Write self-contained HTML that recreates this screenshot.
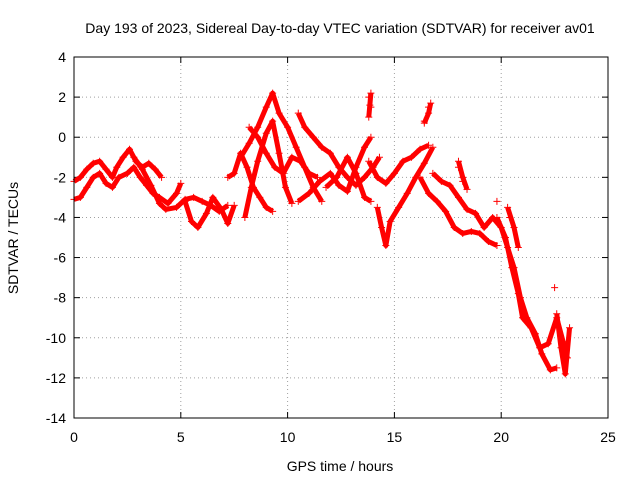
<!DOCTYPE html>
<html><head><meta charset="utf-8"><style>
body{margin:0;background:#fff;font-family:"Liberation Sans",sans-serif}
svg text{font-family:"Liberation Sans",sans-serif;font-size:14px;fill:#000}
</style></head><body>
<svg id="chart" width="640" height="480">
<text x="340" y="33" text-anchor="middle">Day 193 of 2023, Sidereal Day-to-day VTEC variation (SDTVAR) for receiver av01</text>
<text x="340" y="471" text-anchor="middle">GPS time / hours</text>
<text x="18" y="238" text-anchor="middle" transform="rotate(-90 18 238)">SDTVAR / TECUs</text>
<g id="grid"></g><g id="series"></g>
<rect x="74" y="57" width="534" height="361" fill="none" stroke="#000"/>
</svg>
<script>
const xTicks=[0,5,10,15,20,25];
const yTicks=[4,2,0,-2,-4,-6,-8,-10,-12,-14];
const tracks=[
[[0,-2.2],[0.3,-2.0],[0.6,-1.6],[0.9,-1.3],[1.2,-1.2],[1.5,-1.6],[1.8,-2.0],[2.0,-1.5],[2.3,-1.0],[2.6,-0.6],[2.9,-1.2],[3.2,-1.5],[3.5,-1.3],[3.8,-1.6],[4.1,-2.0]],
[[0,-3.1],[0.3,-3.0],[0.6,-2.5],[0.9,-2.0],[1.2,-1.8],[1.5,-2.3],[1.8,-2.5],[2.1,-2.0],[2.5,-1.8],[2.8,-1.5],[3.1,-2.0],[3.4,-2.4],[3.7,-2.8],[4.0,-3.0],[4.4,-3.3],[4.8,-2.8],[5.0,-2.3]],
[[2.8,-1.0],[3.2,-1.6],[3.6,-2.4],[4.0,-3.3],[4.3,-3.6],[4.8,-3.5],[5.2,-3.1],[5.6,-3.0],[6.0,-3.2],[6.4,-3.4],[6.8,-3.7],[7.2,-3.4]],
[[5.2,-3.2],[5.5,-4.2],[5.8,-4.5],[6.2,-3.8],[6.5,-3.0],[6.9,-3.6],[7.2,-4.3],[7.5,-3.4]],
[[7.2,-2.0],[7.5,-1.8],[7.8,-0.8],[8.1,-1.5],[8.4,-2.5],[8.7,-3.0],[9.0,-3.5],[9.3,-3.7]],
[[7.8,-1.0],[8.2,-0.3],[8.6,0.5],[9.0,1.5],[9.3,2.2],[9.6,1.2],[10.0,0.5],[10.4,-0.5],[10.8,-1.5],[11.2,-2.5],[11.6,-3.2]],
[[8.0,-4.0],[8.3,-2.5],[8.6,-1.2],[9.0,0.2],[9.3,0.8],[9.6,-0.8],[9.9,-2.5],[10.2,-3.3]],
[[8.2,0.5],[8.6,0.0],[9.0,-0.8],[9.4,-1.5],[9.8,-1.8],[10.2,-1.0],[10.6,-1.2],[11.0,-1.8],[11.4,-2.0]],
[[10.5,1.2],[10.8,0.5],[11.2,0.0],[11.6,-0.5],[12.0,-0.8],[12.4,-1.5],[12.8,-2.0],[13.2,-2.4],[13.6,-2.0],[14.0,-1.5],[14.3,-1.0]],
[[10.5,-3.2],[11.0,-2.8],[11.5,-2.2],[12.0,-1.8],[12.4,-2.4],[12.8,-2.7],[13.2,-1.5],[13.6,-0.5],[13.9,0.0]],
[[11.8,-2.5],[12.3,-2.0],[12.8,-1.0],[13.2,-1.8],[13.6,-3.0],[13.9,-3.2]],
[[14.2,-3.5],[14.4,-4.5],[14.6,-5.4],[14.8,-4.2],[15.2,-3.5],[15.6,-2.8],[16.0,-2.0],[16.4,-1.3],[16.8,-0.5]],
[[13.8,-1.2],[14.2,-2.0],[14.6,-2.3],[15.0,-1.8],[15.4,-1.2],[15.8,-1.0],[16.2,-0.6],[16.6,-0.4]],
[[16.2,-2.0],[16.6,-2.8],[17.0,-3.2],[17.4,-3.7],[17.8,-4.5],[18.2,-4.8],[18.6,-4.7],[19.0,-4.8],[19.4,-5.2],[19.8,-5.4]],
[[16.8,-1.8],[17.2,-2.2],[17.6,-2.4],[18.0,-3.0],[18.4,-3.6],[18.8,-3.8],[19.2,-4.5],[19.6,-4.0],[20.0,-4.5],[20.3,-5.5],[20.6,-6.5],[20.9,-8.0],[21.2,-9.0],[21.6,-9.8],[21.9,-10.8],[22.3,-11.6],[22.6,-11.5]],
[[19.8,-4.0],[20.2,-5.0],[20.5,-6.5],[20.8,-7.8],[21.0,-9.0],[21.4,-9.5],[21.8,-10.5],[22.2,-10.3],[22.6,-9.0],[22.9,-10.2],[23.1,-11.0]],
[[22.6,-8.8],[22.8,-10.5],[23.0,-11.8],[23.2,-9.5]],
[[13.8,1.0],[13.85,1.6],[13.9,2.2]],
[[16.4,0.7],[16.6,1.2],[16.7,1.7]],
[[18.0,-1.2],[18.2,-2.0],[18.4,-2.6]],
[[20.3,-3.5],[20.6,-4.5],[20.8,-5.5]]
];
const isolated=[[13.8,2.0],[13.9,1.5],[16.6,1.5],[16.4,0.8],[18.0,-1.5],[18.2,-2.2],[19.8,-3.2],[20.4,-4.0],[22.5,-7.5]];
const NS='http://www.w3.org/2000/svg';
const X0=74,X1=608,Y0=57,Y1=418;
function xs(v){return X0+(v-0)/(25-0)*(X1-X0);}
function ys(v){return Y0+(4-v)/(4+14)*(Y1-Y0);}
function mk(t,a,p){const e=document.createElementNS(NS,t);for(const k in a)e.setAttribute(k,a[k]);p.appendChild(e);return e;}
const grid=document.getElementById('grid'),ser=document.getElementById('series');
xTicks.forEach(t=>{
 const x=xs(t);
 if(t>0&&t<25){const l=mk('line',{x1:x,x2:x,y1:Y0,y2:Y1,stroke:'#a0a0a0','stroke-dasharray':'1,3'},grid);
 
 }
 mk('line',{x1:x,x2:x,y1:Y1,y2:Y1-6,stroke:'#000'},grid);
 mk('line',{x1:x,x2:x,y1:Y0,y2:Y0+6,stroke:'#000'},grid);
 const tx=mk('text',{x:x,y:Y1+24,'text-anchor':'middle'},grid);tx.textContent=t;
 
 
});
yTicks.forEach(t=>{
 const y=ys(t);
 if(t<4&&t>-14){const l=mk('line',{x1:X0,x2:X1,y1:y,y2:y,stroke:'#a0a0a0','stroke-dasharray':'1,3'},grid);
 
 }
 mk('line',{x1:X0,x2:X0+6,y1:y,y2:y,stroke:'#000'},grid);
 mk('line',{x1:X1,x2:X1-6,y1:y,y2:y,stroke:'#000'},grid);
 const tx=mk('text',{x:X0-8,y:y+5,'text-anchor':'end'},grid);tx.textContent=t;
 
 
});
function plus(t,v,g){const x=xs(t),y=ys(v);
 mk('path',{d:`M${x-3.5},${y}H${x+3.5}M${x},${y-3.5}V${y+3.5}`,stroke:'#f00','stroke-width':1},g);}
tracks.forEach(tr=>{
 const g=mk('g',{},ser);
 
 
 mk('polyline',{points:tr.map(p=>xs(p[0])+','+ys(p[1])).join(' '),fill:'none',stroke:'#f00','stroke-width':5,'stroke-linejoin':'round'},g);
 tr.forEach(p=>plus(p[0],p[1],g));
});
const gi=mk('g',{},ser);


isolated.forEach(p=>plus(p[0],p[1],gi));
</script>
</body></html>
